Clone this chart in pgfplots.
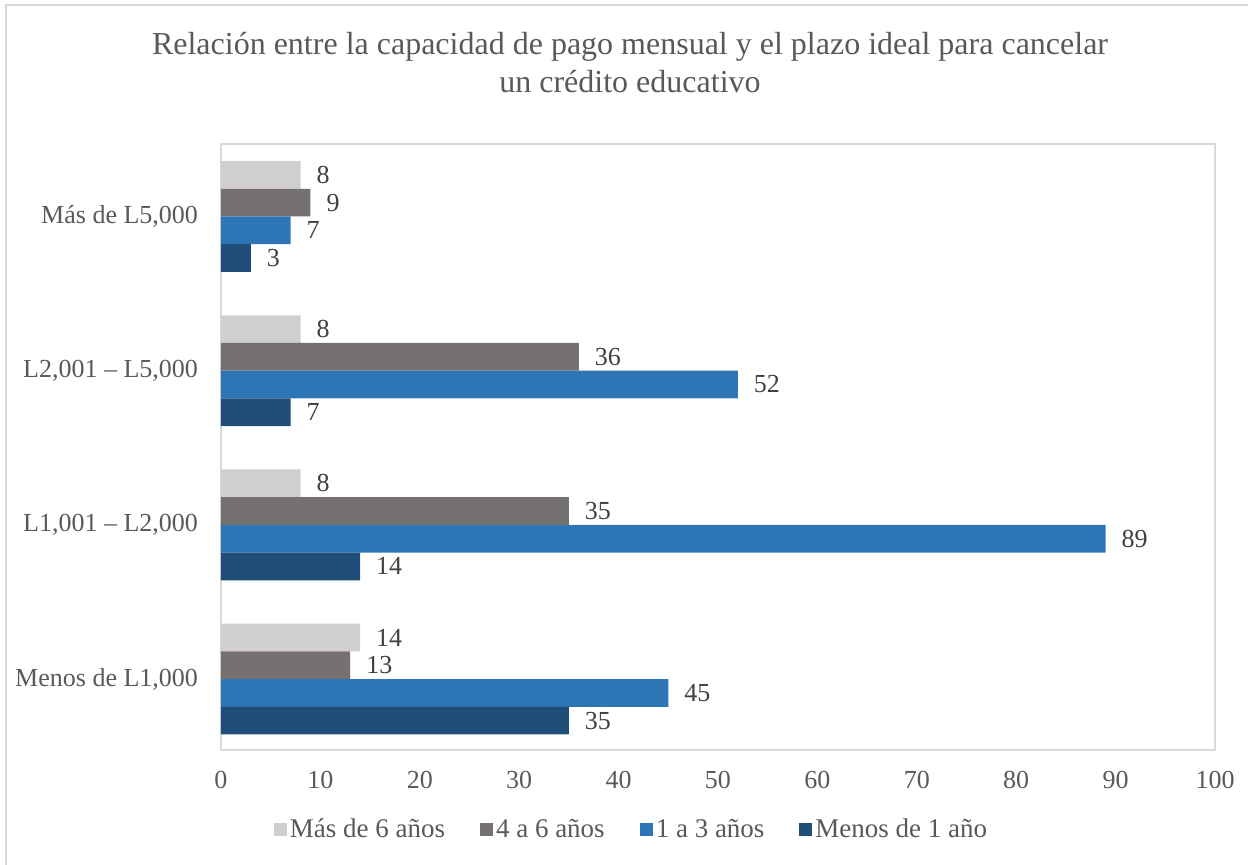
\documentclass[border=0pt]{standalone}
\usepackage{pgfplots}
\pgfplotsset{compat=1.18}
\usepackage{fontspec}
\setmainfont{Liberation Serif}
\definecolor{cLight}{HTML}{D0CECE}
\definecolor{cDark}{HTML}{767171}
\definecolor{cBlue}{HTML}{2E75B6}
\definecolor{cNavy}{HTML}{1F4E79}
\definecolor{cBorder}{HTML}{D9D9D9}
\definecolor{cText}{HTML}{595959}
\definecolor{cLabel}{HTML}{404040}
\begin{document}
\begin{tikzpicture}
\begin{axis}[
  at={(0pt,0pt)}, anchor=south west,
  scale only axis, width=497pt, height=303pt,
  xbar, bar width=13.85pt,
  xmin=0, xmax=100, ymin=-0.46, ymax=3.47,
  xtick={0,10,...,100},
  ytick={0,1,2,3},
  yticklabels={{Menos de L1,000}, {L1,001 – L2,000}, {L2,001 – L5,000}, {Más de L5,000}},
  major tick length=0pt,
  axis line style={cBorder, line width=1pt},
  tick label style={font=\fontsize{13}{15}\selectfont, text=cText},
  /pgf/number format/assume math mode=true,
  xticklabel style={yshift=-7pt},
  yticklabel style={xshift=-8pt},
  nodes near coords,
  nodes near coords style={font=\fontsize{13}{15}\selectfont, text=cLabel, anchor=west, xshift=4.5pt},
  legend columns=4,
  legend style={draw=none, at={(0.4135,-0.132)}, anchor=center,
    font=\fontsize{13.5}{15}\selectfont, text=cText,
    /tikz/every even column/.append style={column sep=16pt},
    nodes={inner sep=1.5pt}},
  legend image code/.code={\fill[#1] (0pt,-3.25pt) rectangle (6.5pt,3.25pt);},
]
\addplot[fill=cLight, draw=none, bar shift=20.775pt] coordinates {(14,0) (8,1) (8,2) (8,3)};
\addplot[fill=cDark, draw=none, bar shift=6.925pt] coordinates {(13,0) (35,1) (36,2) (9,3)};
\addplot[fill=cBlue, draw=none, bar shift=-6.925pt] coordinates {(45,0) (89,1) (52,2) (7,3)};
\addplot[fill=cNavy, draw=none, bar shift=-20.775pt] coordinates {(35,0) (14,1) (7,2) (3,3)};
\legend{Más de 6 años, 4 a 6 años, 1 a 3 años, Menos de 1 año}
\end{axis}
\node[align=center, font=\fontsize{16}{19}\selectfont, text=cText] at (204.5pt,343.5pt)
  {Relación entre la capacidad de pago mensual y el plazo ideal para cancelar\\un crédito educativo};
\draw[cBorder, line width=1pt] (-107.5pt,372.5pt) rectangle (530pt,-70pt);
\pgfresetboundingbox
\path[use as bounding box] (-110.5pt,-57.5pt) rectangle (513.5pt,375pt);
\end{tikzpicture}
\end{document}
